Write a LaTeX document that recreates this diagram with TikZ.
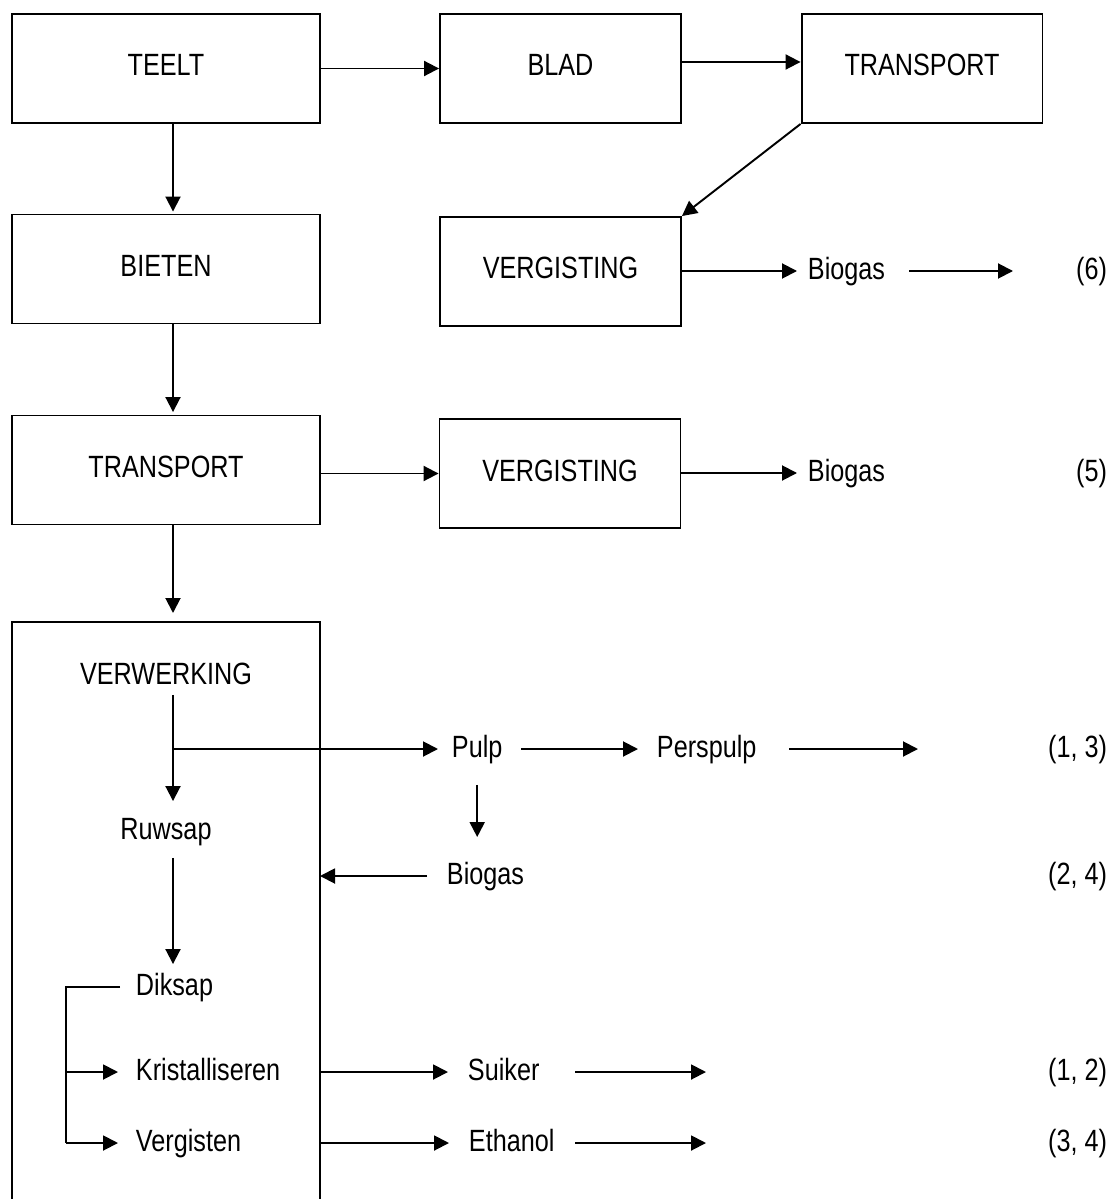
\documentclass[tikz,border=0pt]{standalone}
\usepackage{fontspec}
\setmainfont{Liberation Sans}[FakeStretch=0.82]
\usetikzlibrary{arrows.meta}
\begin{document}
\begin{tikzpicture} [x=0.02cm,y=-0.02cm,line width=1.1pt,font=\fontsize{17.5}{21}\selectfont,
		box/.style={draw,inner sep=0pt,minimum height=2.18cm,text height=0.44cm,text depth=0.14cm},
		wide/.style={box,minimum width=6.16cm},
		narrow/.style={box,minimum width=4.82cm},
		txt/.style={inner sep=0pt,text height=0.34cm,text depth=0pt},
		arr/.style={-{Triangle[length=0.3cm,width=0.3cm]}}]
		\useasboundingbox (0,0) rectangle (1117,1199);
		\coordinate (spine) at (173,0);
		\coordinate (rail) at (66,0);
		\coordinate (verwtop) at (173,622);
		\coordinate (verwedge) at (320,622);
		\node [wide] (teelt) at (166,68.5) {TEELT};
		\node [narrow] (blad) at (560.5,68.5) {BLAD};
		\node [narrow] (transA) at (922,68.5) {TRANSPORT};
		\node [wide] (bieten) at (166,269) {BIETEN};
		\node [narrow] (vergA) at (560.5,271.5) {VERGISTING};
		\node [wide] (transB) at (166,470) {TRANSPORT};
		\node [narrow] (vergB) at (560,473.5) {VERGISTING};
		\draw (12,1199) -- (12,622) -- (verwedge) -- (320,1199);
		\node [txt] (verwerking) at (166,676) {VERWERKING};
		\node [txt] (ruwsap) at (166,831) {Ruwsap};
		\node [txt,anchor=west] (diksap) at (135,987) {Diksap};
		\node [txt,anchor=west] (kristal) at (135,1072) {Kristalliseren};
		\node [txt,anchor=west] (vergisten) at (135,1143) {Vergisten};
		\node [txt,anchor=west] (biogasA) at (807,271) {Biogas};
		\node [txt,anchor=west] (biogasB) at (807,473) {Biogas};
		\node [txt,anchor=west] (pulp) at (451,749) {Pulp};
		\node [txt,anchor=west] (perspulp) at (656,749) {Perspulp};
		\node [txt,anchor=west] (biogasC) at (446,876) {Biogas};
		\node [txt,anchor=west] (suiker) at (467,1072) {Suiker};
		\node [txt,anchor=west] (ethanol) at (468,1143) {Ethanol};
		\node [txt,anchor=east] (nrA) at (1108,271) {(6)};
		\node [txt,anchor=east] (nrB) at (1108,473) {(5)};
		\node [txt,anchor=east] (nrC) at (1108,749) {(1, 3)};
		\node [txt,anchor=east] (nrD) at (1108,876) {(2, 4)};
		\node [txt,anchor=east] (nrE) at (1108,1072) {(1, 2)};
		\node [txt,anchor=east] (nrF) at (1108,1143) {(3, 4)};
		\coordinate (endA) at (1013,271);
		\coordinate (endC) at (918,749);
		\coordinate (endE) at (706,1072);
		\coordinate (endF) at (706,1143);
		\draw [arr] (teelt.east) -- (blad.west);
		\draw [arr] ([yshift=0.13cm]blad.east) -- ([yshift=0.13cm]transA.west);
		\draw [arr] (transA.south west) -- (vergA.north east);
		\draw [arr,shorten >=0.04cm] (spine |- teelt.south) -- (spine |- bieten.north);
		\draw [arr,shorten >=0.05cm] (spine |- bieten.south) -- (spine |- transB.north);
		\draw [arr,shorten >=0.18cm] (spine |- transB.south) -- (verwtop);
		\draw [arr,shorten >=0.2cm] (vergA.east |- biogasA.west) -- (biogasA.west);
		\draw [arr,shorten <=0.46cm] (biogasA.east) -- (endA);
		\draw [arr] (vergB.west -| transB.east) -- (vergB.west);
		\draw [arr,shorten >=0.2cm] (vergB.east |- biogasB.west) -- (biogasB.west);
		\draw [arr,shorten <=0.19cm,shorten >=0.41cm] (spine |- verwerking.south) -- (spine |- ruwsap.north);
		\draw [arr,shorten <=0.35cm,shorten >=0.27cm] (spine |- ruwsap.south) -- (spine |- diksap.north);
		\draw [arr,shorten >=0.26cm] (spine |- pulp.west) -- (pulp.west);
		\draw [arr,shorten <=0.36cm,shorten >=0.36cm] (pulp.east) -- (perspulp.west);
		\draw [arr,shorten <=0.64cm] (perspulp.east) -- (endC);
		\draw [arr,shorten <=0.53cm,shorten >=0.59cm] (pulp.south) -- (pulp.south |- biogasC.north);
		\draw [arr,shorten <=0.38cm] (biogasC.west) -- (verwedge |- biogasC.west);
		\draw ([xshift=-0.3cm]diksap.west) -- (rail |- diksap.west) -- (rail |- vergisten.west);
		\draw [arr,shorten >=0.34cm] (rail |- kristal.west) -- (kristal.west);
		\draw [arr,shorten >=0.34cm] (rail |- vergisten.west) -- (vergisten.west);
		\draw [arr,shorten >=0.38cm] (verwedge |- suiker.west) -- (suiker.west);
		\draw [arr,shorten <=0.7cm] (suiker.east) -- (endE);
		\draw [arr,shorten >=0.38cm] (verwedge |- ethanol.west) -- (ethanol.west);
		\draw [arr,shorten <=0.4cm] (ethanol.east) -- (endF);
	\end{tikzpicture}
\end{document}
